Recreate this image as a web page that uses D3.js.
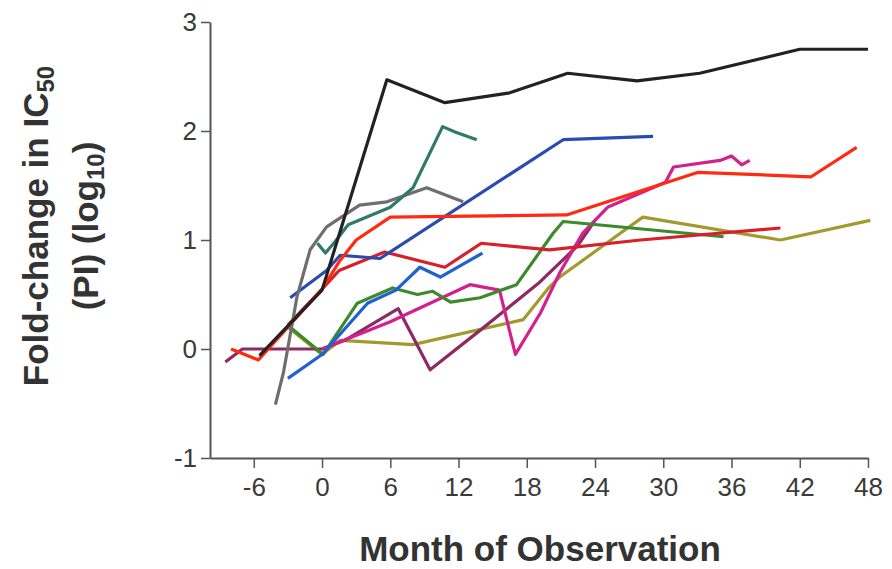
<!DOCTYPE html>
<html>
<head>
<meta charset="utf-8">
<script src="https://cdn.jsdelivr.net/npm/d3@7"></script>
<style>
  body { margin: 0; background: #fff; }
  svg { display: block; font-family: "Liberation Sans", Arial, sans-serif; }
</style>
</head>
<body>
<div id="chart"></div>
<script>
// tick labels
var xTicks = [-6, 0, 6, 12, 18, 24, 30, 36, 42, 48];
var yTicks = [-1, 0, 1, 2, 3];

// series: [month, log10 fold-change]
var blackLine = [[-5.5,-0.06],[0,0.54],[5.7,2.47],[10.8,2.26],[16.5,2.35],[21.6,2.53],[27.7,2.46],[33.2,2.53],[42,2.75],[48,2.75]];
var grayLine = [[-4.1,-0.51],[-3.4,-0.22],[-2.2,0.48],[-1.05,0.91],[0.4,1.12],[3.3,1.32],[5.7,1.35],[9.2,1.48],[12.4,1.35]];
var tealLine = [[-0.4,0.97],[0.3,0.88],[1.1,0.98],[2.3,1.14],[6,1.3],[8,1.48],[10.6,2.04],[11.7,1.99],[13.6,1.92]];
var blueUpper = [[-2.8,0.47],[0.4,0.72],[1.6,0.86],[5.1,0.83],[21.2,1.92],[29.1,1.95]];
var blueLower = [[-3,-0.27],[0,-0.05],[4,0.42],[6.5,0.54],[8.6,0.75],[10.4,0.66],[14.1,0.88]];
var redBright = [[-8,0],[-5.6,-0.1],[-3,0.2],[0,0.55],[1.5,0.8],[3,1.0],[6,1.21],[21.5,1.23],[33,1.62],[43,1.58],[47,1.85]];
var redDark = [[-3,0.22],[0,0.55],[1.5,0.72],[5.5,0.89],[10.8,0.75],[14,0.97],[20,0.91],[28,1.0],[40.3,1.11]];
var greenLine = [[-2.8,0.2],[0.1,-0.05],[3.1,0.42],[6.2,0.56],[8.4,0.5],[9.7,0.53],[11.3,0.43],[13.9,0.47],[17.1,0.59],[20.3,1.06],[21.2,1.17],[35.3,1.03]];
var oliveLine = [[-3,0.2],[0,-0.05],[1.6,0.08],[8,0.04],[17.7,0.27],[20,0.57],[20.9,0.66],[25,0.97],[28.2,1.21],[40.3,1.0],[48.2,1.18]];
var magentaLine = [[0,0],[6,0.25],[13,0.59],[15.6,0.54],[17,-0.05],[19.2,0.33],[20.9,0.7],[22.9,1.06],[25.1,1.3],[30.2,1.53],[30.9,1.67],[35,1.73],[36,1.77],[36.9,1.69],[37.6,1.73]];
var maroonLine = [[-8.5,-0.12],[-7,0],[0,0],[2,0.08],[6.7,0.37],[9.5,-0.19],[14,0.18],[19,0.6],[22.5,0.95],[24,1.18]];

var series = [
  {data: oliveLine,   color: "#a39a2e"},
  {data: maroonLine,  color: "#8e2a62"},
  {data: magentaLine, color: "#d2208e"},
  {data: greenLine,   color: "#3d8a2c"},
  {data: blueLower,   color: "#2060d0"},
  {data: redDark,     color: "#d8202c"},
  {data: blueUpper,   color: "#2a4cb0"},
  {data: redBright,   color: "#ff2a12"},
  {data: grayLine,    color: "#6e6e6e"},
  {data: tealLine,    color: "#2f7a68"},
  {data: blackLine,   color: "#222222"}
];

var margin = {top: 22, right: 24, bottom: 111, left: 210},
    width = 892 - margin.left - margin.right,
    height = 569 - margin.top - margin.bottom;

var svg = d3.select("#chart")
  .append("svg")
    .attr("width", 892)
    .attr("height", 569)
  .append("g")
    .attr("transform", "translate(" + margin.left + "," + margin.top + ")");

var x = d3.scaleLinear()
  .domain([-9.85, 48])
  .range([0, width]);

var y = d3.scaleLinear()
  .domain([-1, 3])
  .range([height, 0]);

// plain hyphen for negatives, like the original
var plain = function(d) { return String(d); };

// axes
var xAxis = svg.append("g")
  .attr("transform", "translate(0," + height + ")")
  .call(d3.axisBottom(x).tickValues(xTicks).tickFormat(plain).tickSizeInner(10).tickSizeOuter(0).tickPadding(10));

var yAxis = svg.append("g")
  .call(d3.axisLeft(y).tickValues(yTicks).tickFormat(plain).tickSizeInner(9).tickSizeOuter(0).tickPadding(4));

[xAxis, yAxis].forEach(function(a) {
  a.select(".domain").attr("stroke", "#555").attr("stroke-width", 2);
  a.selectAll(".tick line").attr("stroke", "#555").attr("stroke-width", 1.5);
  a.selectAll(".tick text")
    .attr("fill", "#3a3a3a")
    .style("font-size", "26px")
    .style("font-family", "'Liberation Sans', Arial, sans-serif");
});

// lines
var line = d3.line()
  .x(function(d) { return x(d[0]); })
  .y(function(d) { return y(d[1]); });

svg.selectAll(".series")
  .data(series)
  .enter()
  .append("path")
    .attr("class", "series")
    .attr("fill", "none")
    .attr("stroke", function(d) { return d.color; })
    .attr("stroke-width", 3.2)
    .attr("stroke-linejoin", "round")
    .attr("d", function(d) { return line(d.data); });

// axis titles
svg.append("text")
  .attr("x", 540 - margin.left)
  .attr("y", 561 - margin.top)
  .attr("text-anchor", "middle")
  .attr("font-size", "35px")
  .attr("font-weight", "bold")
  .attr("fill", "#333")
  .text("Month of Observation");

var yTitle = svg.append("text")
  .attr("transform", "rotate(-90)")
  .attr("text-anchor", "middle")
  .attr("font-size", "35px")
  .attr("font-weight", "bold")
  .attr("fill", "#333");

var t1 = yTitle.append("tspan")
  .attr("x", -(226 - margin.top))
  .attr("y", 48 - margin.left);
t1.append("tspan").text("Fold-change in IC");
t1.append("tspan").attr("font-size", "24px").attr("dy", 6).text("50");

var t2 = yTitle.append("tspan")
  .attr("x", -(226 - margin.top))
  .attr("y", 98 - margin.left);
t2.append("tspan").text("(PI) (log");
t2.append("tspan").attr("font-size", "24px").attr("dy", 6).text("10");
t2.append("tspan").attr("dy", -6).text(")");
</script>
</body>
</html>
